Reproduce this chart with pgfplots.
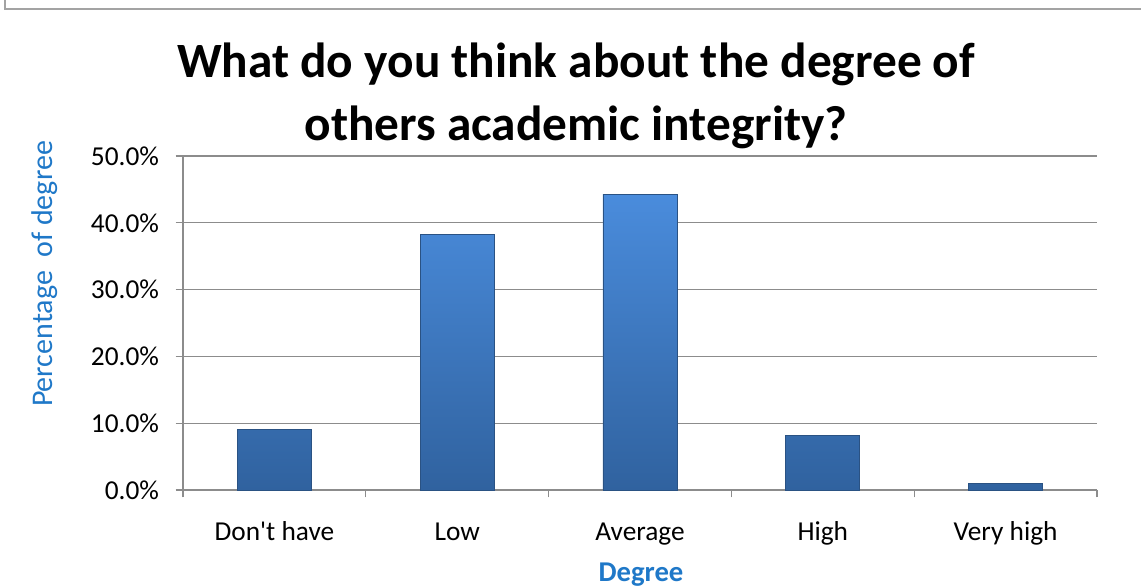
\documentclass[border=0pt]{standalone}
\usepackage{fontspec}
\setmainfont{Carlito}
\usepackage{pgfplots}
\pgfplotsset{compat=1.18}
\definecolor{axgray}{HTML}{8C8C8C}
\definecolor{ttlblue}{HTML}{1F78C8}
\definecolor{bartop}{HTML}{4A8CDC}
\definecolor{barbot}{HTML}{30629F}
\definecolor{baredge}{HTML}{2A5283}
\begin{document}
\begin{tikzpicture}[x=0.75pt,y=0.75pt]
\useasboundingbox (0,0) rectangle (1141,588);
% outer frame (top and left)
\draw[color=axgray!80,line width=1.5pt] (5,588) -- (5,579) -- (1141,579);
\coordinate (axSW) at (183,98);
\node[font=\bfseries\fontsize{37}{47}\selectfont,align=center] at (576,492) {What do you think about the degree of\\others academic integrity?};
\node[rotate=90,font=\fontsize{22.5}{27}\selectfont,text=ttlblue] at (45,314) {Percentage\ \ of degree};
\node[font=\bfseries\fontsize{21.5}{26}\selectfont,text=ttlblue] at (641,13) {Degree};
\begin{axis}[
  at={(axSW)}, anchor=south west,
  scale only axis, width=685.5pt, height=250.5pt,
  xmin=-0.5, xmax=4.5, ymin=0, ymax=50,
  axis x line*=bottom, axis y line*=left,
  axis line style={axgray, line width=0.8pt},
  xtick={0,1,2,3,4},
  xticklabels={Don\textquotesingle t have,Low,Average,High,Very high},
  major x tick style={draw=none},
  minor xtick={-0.5,0.5,1.5,2.5,3.5,4.5},
  ytick={0,10,20,30,40,50},
  yticklabels={0.0\%,10.0\%,20.0\%,30.0\%,40.0\%,50.0\%},
  tick align=outside, major tick length=5.5pt, minor tick length=5.5pt,
  tick style={axgray, line width=0.8pt},
  ymajorgrids, grid style={axgray, line width=0.8pt},
  tick label style={font=\fontsize{20.5}{24}\selectfont, text=black},
  xticklabel style={yshift=-15pt, text height=14pt, text depth=4.5pt},
  yticklabel style={xshift=-9pt},
  clip=false,
]
\addplot[ybar, bar width=0.405, draw=baredge, line width=0.6pt,
  top color=bartop, bottom color=barbot]
  coordinates {(0,9.0) (1,38.2) (2,44.3) (3,8.1) (4,1.0)};
\end{axis}
\end{tikzpicture}
\end{document}
